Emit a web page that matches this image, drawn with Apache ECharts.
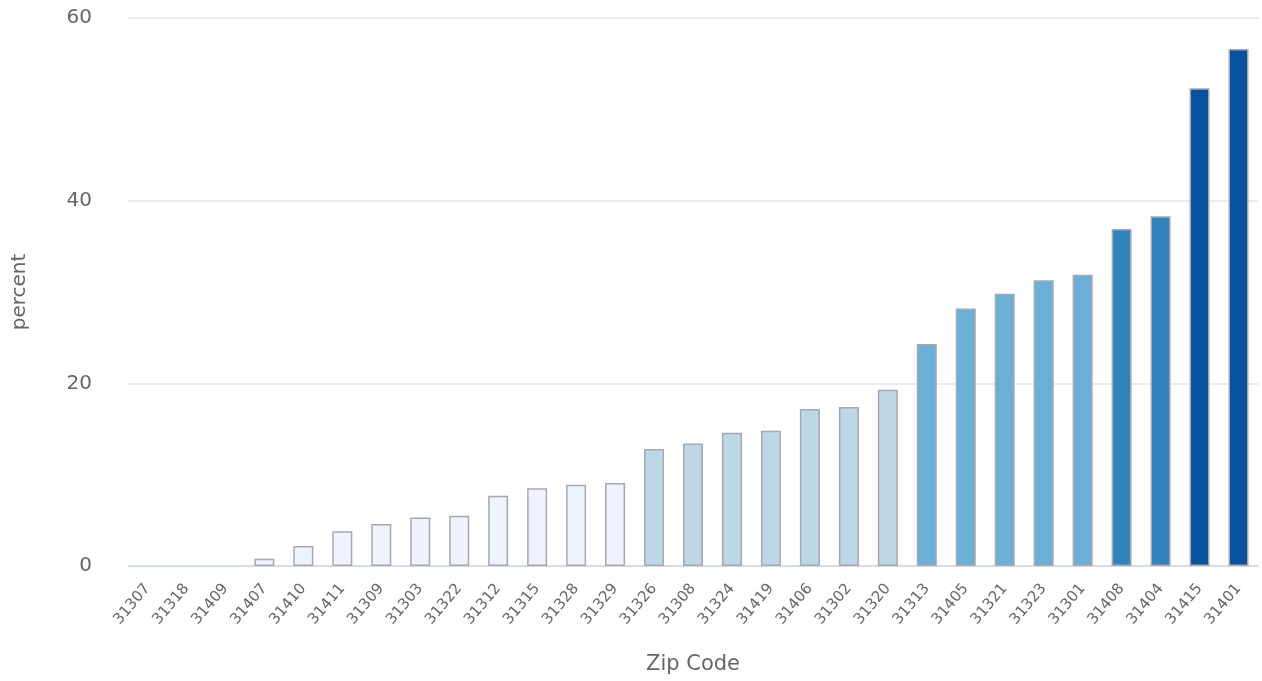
<!DOCTYPE html>
<html>
<head>
<meta charset="utf-8">
<script src="https://cdn.jsdelivr.net/npm/echarts@6/dist/echarts.min.js"></script>
<style>html,body{margin:0;padding:0;background:#fff;}#c{width:1262px;height:681px;}</style>
</head>
<body>
<div id="c"></div>
<script>
const categories = ["31307","31318","31409","31407","31410","31411","31309","31303","31322","31312","31315","31328","31329","31326","31308","31324","31419","31406","31302","31320","31313","31405","31321","31323","31301","31408","31404","31415","31401"];
const values = [0,0,0,0.8,2.2,3.8,4.6,5.3,5.5,7.7,8.5,8.9,9.1,12.8,13.4,14.6,14.8,17.2,17.4,19.3,24.3,28.2,29.8,31.3,31.9,36.9,38.3,52.3,56.6];
const yTicks = [0,20,40,60];
const classBreaks = [0,10,22,35,45,100];
const classColors = ["#eff3ff","#bdd7e7","#6baed6","#3182bd","#08519c"];

const chart = echarts.init(document.getElementById('c'));
const font = "DejaVu Sans";
chart.setOption({
  animation:false,
  grid:{left:128,right:4,top:18,bottom:115,outerBoundsMode:'none'},
  visualMap:{type:'piecewise',show:false,dimension:1,
    pieces:classColors.map((c,i)=>({gte:classBreaks[i],lt:classBreaks[i+1],color:c}))},
  xAxis:{type:'category',data:categories,
    name:'Zip Code',nameLocation:'middle',nameGap:88,
    nameTextStyle:{fontFamily:font,fontSize:21,color:'#666'},
    axisLine:{lineStyle:{color:'#ccd6eb',width:1.5}},
    axisTick:{show:false},
    axisLabel:{rotate:50,interval:0,hideOverlap:false,fontFamily:font,fontSize:15,color:'#666',margin:20}},
  yAxis:{type:'value',min:yTicks[0],max:yTicks[yTicks.length-1],interval:20,
    name:'percent',nameLocation:'middle',nameGap:98,
    nameTextStyle:{fontFamily:font,fontSize:20,color:'#666'},
    axisLine:{show:false},axisTick:{show:false},
    axisLabel:{fontFamily:font,fontSize:20,color:'#666',margin:36},
    splitLine:{lineStyle:{color:'#e6e6e6',width:1.5}}},
  series:[{type:'bar',barWidth:20,
    data:values.map(v=>({value:v,itemStyle:{borderWidth:v>0?1.5:0}})),
    itemStyle:{borderColor:'#a8a8b0',borderWidth:1.5}}]
});
</script>
</body>
</html>
